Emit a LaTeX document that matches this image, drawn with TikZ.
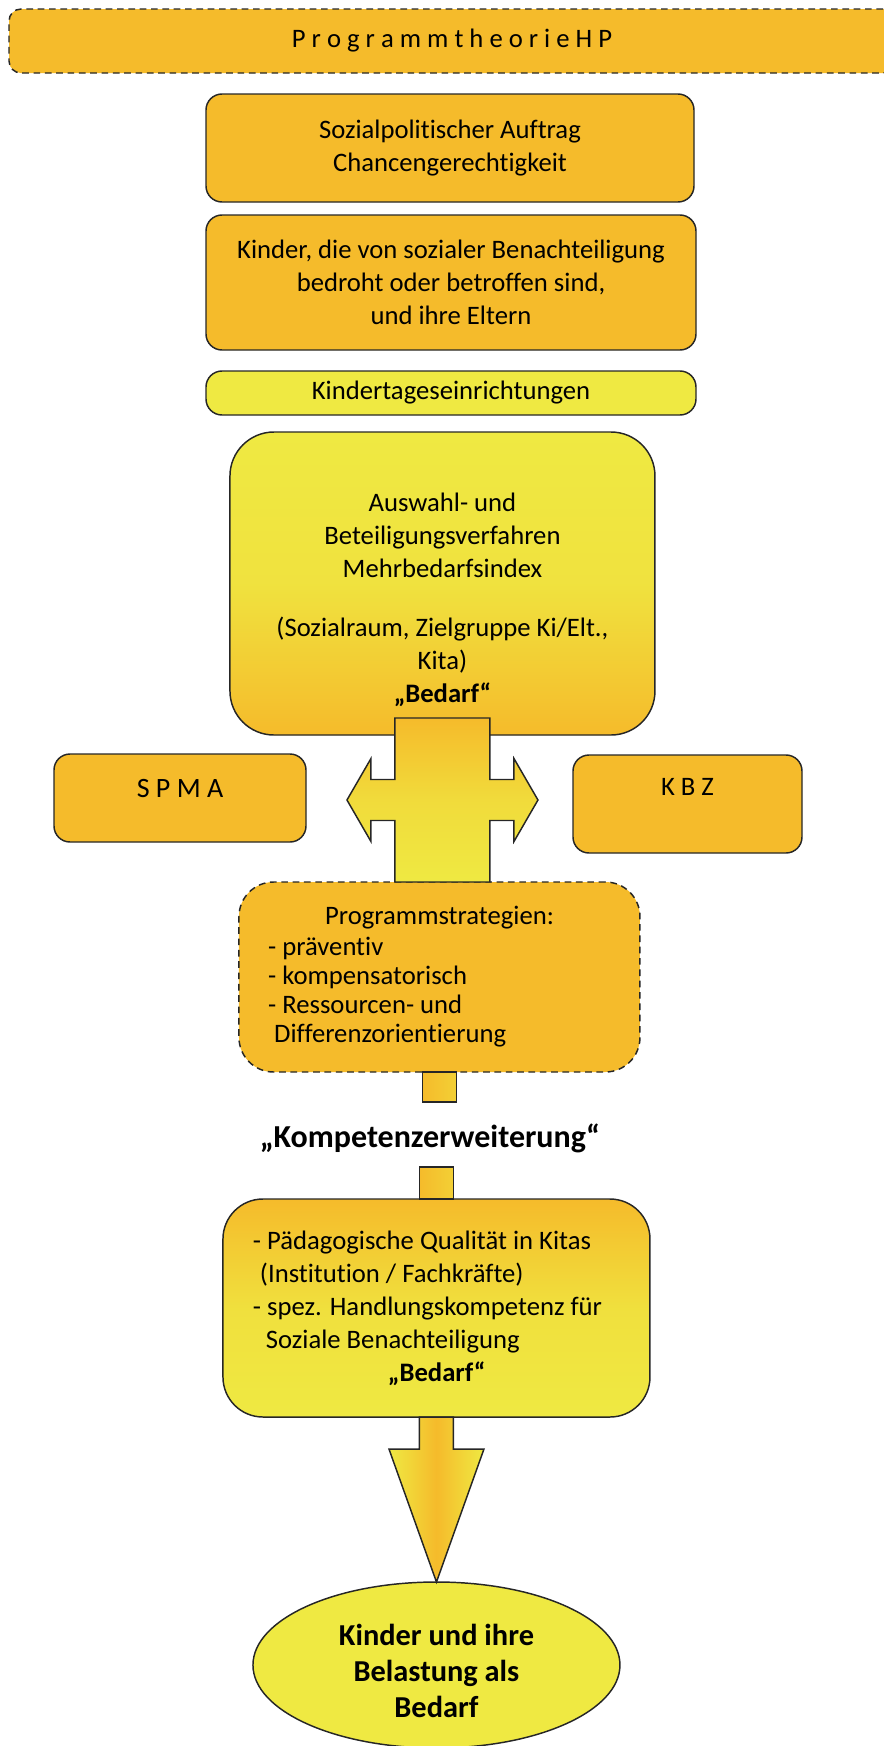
\documentclass[tikz,border=0pt]{standalone}
\usepackage{fontspec}
\setmainfont{Carlito}[Ligatures=CommonOff]
\usetikzlibrary{positioning,calc,shapes.geometric}

\definecolor{hporange}{HTML}{F5BB2B}
\definecolor{hpgelb}{HTML}{EFE942}
\definecolor{rand}{HTML}{262626}

\tikzset{
  kasten/.style={draw=rand, line width=1.1pt, fill=hporange, rounded corners=12pt,
    align=center, inner sep=0pt, outer sep=0pt, font=\fontsize{20}{24.75}\selectfont},
  gestrichelt/.style={dash pattern=on 5pt off 3.5pt},
  oben gelb/.style={top color=hpgelb, bottom color=hporange, middle color=hpgelb!85!hporange},
  oben orange/.style={top color=hporange, bottom color=hpgelb, middle color=hpgelb!80!hporange},
  balken/.style={draw=rand, line width=1.1pt, left color=hporange, right color=hpgelb!45!hporange}
}

\begin{document}
\begin{tikzpicture}[x=0.75pt, y=-0.75pt]
      \useasboundingbox (0,0) rectangle (884,1746);

      \node[kasten, gestrichelt, rounded corners=9pt, minimum width=664.5pt, minimum height=48pt] (titel) at (452,41) {P r o g r a m m t h e o r i e H P};
      \node[kasten, minimum width=366pt, minimum height=81pt] (auftrag) at (450,148) {Sozialpolitischer Auftrag\\Chancengerechtigkeit};
      \node[kasten, minimum width=367.5pt, minimum height=101.25pt] (zielgruppe) [below=9.75pt of auftrag, xshift=0.75pt] {Kinder, die von sozialer Benachteiligung\\bedroht oder betroffen sind,\\und ihre Eltern};
      \node[kasten, fill=hpgelb, minimum width=367.5pt, minimum height=33pt] (kita) [below=15.75pt of zielgruppe] {Kindertageseinrichtungen};
      \node[kasten, oben gelb, rounded corners=33pt, minimum width=318.75pt, minimum height=227.25pt] (auswahl) [below=12.75pt of kita, xshift=-6.4pt] {\rule{0pt}{38pt}Auswahl- und\\Beteiligungsverfahren\\Mehrbedarfsindex\\[19.5pt](Sozialraum, Zielgruppe Ki/Elt.,\\Kita)\\\textbf{„Bedarf“}};

      \node[kasten, font=\fontsize{21}{24.75}\selectfont, minimum width=189pt, minimum height=66pt, text depth=15pt] (spma) at (180,798) {S P M A};
      \node[kasten, minimum width=171.75pt, minimum height=73.5pt, text depth=25pt] (kbz) at (687.5,804) {K B Z};

      \node[kasten, gestrichelt, rounded corners=26pt, minimum width=300.75pt, minimum height=142.5pt,
        align=flush left, text width=257pt, font=\fontsize{20}{21.75}\selectfont] (strategien) [below=110.25pt of auswahl, xshift=-2.25pt]
        {\hspace*{42.75pt}Programmstrategien:\\[1.5pt]- präventiv\\- kompensatorisch\\- Ressourcen- und\\\hspace*{4.5pt}Differenzorientierung};

      \node[fill=white, inner xsep=3pt, outer sep=0pt, minimum height=48.75pt, text height=24pt, text depth=5pt,
        font=\bfseries\fontsize{24}{29}\selectfont] (kompetenz) at (430,1134.5) {„Kompetenzerweiterung“};

      \node[kasten, oben orange, rounded corners=30pt, minimum width=320.25pt, minimum height=163.5pt,
        align=flush left, text width=275.25pt] (qualitaet) [below=95.25pt of strategien, xshift=-2.25pt]
        {- Pädagogische Qualität in Kitas\\\hspace*{5.25pt}(Institution / Fachkräfte)\\- spez. Handlungskompetenz für\\\hspace*{9.75pt}Soziale Benachteiligung\\\hspace*{101.25pt}\textbf{„Bedarf“}};

      \node[ellipse, draw=rand, line width=1.1pt, fill=hpgelb, inner sep=0pt, outer sep=0pt,
        minimum width=275.25pt, minimum height=124.5pt, align=center,
        font=\bfseries\fontsize{22.8}{27}\selectfont] (belastung) [below=123.75pt of qualitaet] {\rule{0pt}{25pt}Kinder und ihre\\Belastung als\\Bedarf};

      % Doppelpfeil zwischen SPMA und KBZ
      \coordinate (kreuz) at ($(auswahl.south)+(0,65)$);
      \path[draw=rand, line width=1.1pt, top color=hporange, bottom color=hpgelb, middle color=hpgelb!70!hporange, shift={(kreuz)}]
        (-47.5,-82) -- (47.5,-82) -- (47.5,-20.5) -- (71.5,-20.5) -- (71.5,-41.5) -- (95.5,0)
        -- (71.5,41.5) -- (71.5,20.5) -- (47.5,20.5) -- (47.5,82) -- (-47.5,82) -- (-47.5,20.5)
        -- (-71.5,20.5) -- (-71.5,41.5) -- (-95.5,0) -- (-71.5,-41.5) -- (-71.5,-20.5) -- (-47.5,-20.5) -- cycle;

      \path[balken] ($(strategien.south)+(-17,0)$) rectangle ($(kompetenz.north -| strategien.south)+(17,0)$);
      \path[balken] ($(kompetenz.south -| qualitaet.north)+(-17,0)$) rectangle ($(qualitaet.north)+(17,0)$);

      \path[draw=rand, line width=1.1pt, left color=hpgelb, right color=hpgelb, middle color=hporange]
        ($(qualitaet.south)+(-17,0)$) -- ++(0,32) -- ++(-30.5,0) -- (belastung.north)
        -- ($(qualitaet.south)+(47.5,32)$) -- ++(-30.5,0) -- ++(0,-32) -- cycle;
\end{tikzpicture}
\end{document}
